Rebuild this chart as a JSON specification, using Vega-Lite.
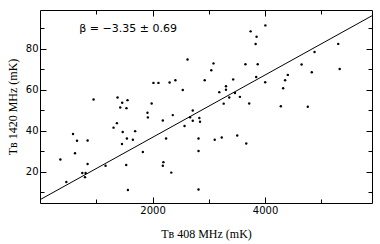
{
  "$schema": "https://vega.github.io/schema/vega-lite/v6.json",
  "width": 332,
  "height": 193,
  "autosize": {"type": "none"},
  "padding": {"left": 40, "top": 10, "right": 8, "bottom": 41},
  "background": "white",
  "config": {
    "view": {"stroke": "black", "strokeWidth": 1},
    "axis": {
      "domain": false,
      "grid": false,
      "tickColor": "black",
      "tickWidth": 1,
      "labelColor": "black",
      "labelFont": "DejaVu Sans",
      "labelFontSize": 10,
      "titleColor": "black",
      "titleFont": "Liberation Serif",
      "titleFontSize": 12,
      "titleFontWeight": "normal"
    }
  },
  "datasets": {
    "pts": [
      {"t408": 952, "t1420": 55.2}, {"t408": 1378, "t1420": 56.2}, {"t408": 1461, "t1420": 53.6},
      {"t408": 1555, "t1420": 54.9}, {"t408": 1426, "t1420": 51.3}, {"t408": 1537, "t1420": 51.0},
      {"t408": 1984, "t1420": 53.3}, {"t408": 2016, "t1420": 63.3}, {"t408": 2105, "t1420": 63.3},
      {"t408": 2303, "t1420": 63.5}, {"t408": 2406, "t1420": 64.6}, {"t408": 2622, "t1420": 74.7},
      {"t408": 2537, "t1420": 59.8}, {"t408": 3083, "t1420": 72.8}, {"t408": 3044, "t1420": 69.5},
      {"t408": 2927, "t1420": 64.6}, {"t408": 3186, "t1420": 58.8}, {"t408": 3305, "t1420": 61.7},
      {"t408": 3305, "t1420": 60.0}, {"t408": 3433, "t1420": 65.0}, {"t408": 3363, "t1420": 56.2},
      {"t408": 3465, "t1420": 58.4}, {"t408": 3553, "t1420": 56.5}, {"t408": 3264, "t1420": 53.2},
      {"t408": 3718, "t1420": 53.3}, {"t408": 3651, "t1420": 72.4}, {"t408": 3743, "t1420": 88.4},
      {"t408": 3849, "t1420": 85.8}, {"t408": 3832, "t1420": 82.2}, {"t408": 3869, "t1420": 72.4},
      {"t408": 3842, "t1420": 66.2}, {"t408": 4005, "t1420": 91.3}, {"t408": 4002, "t1420": 63.6},
      {"t408": 4280, "t1420": 51.9}, {"t408": 4759, "t1420": 51.7}, {"t408": 4649, "t1420": 72.3},
      {"t408": 4879, "t1420": 78.3}, {"t408": 4830, "t1420": 68.5}, {"t408": 5300, "t1420": 82.3},
      {"t408": 5326, "t1420": 70.1}, {"t408": 4404, "t1420": 67.2}, {"t408": 4356, "t1420": 64.6},
      {"t408": 4321, "t1420": 60.7}, {"t408": 2715, "t1420": 49.9}, {"t408": 2832, "t1420": 46.2},
      {"t408": 2715, "t1420": 44.9}, {"t408": 2844, "t1420": 44.4}, {"t408": 1910, "t1420": 48.8},
      {"t408": 1917, "t1420": 46.5}, {"t408": 1367, "t1420": 43.7}, {"t408": 1307, "t1420": 41.5},
      {"t408": 1470, "t1420": 39.4}, {"t408": 1691, "t1420": 39.8}, {"t408": 587, "t1420": 38.4},
      {"t408": 658, "t1420": 35.1}, {"t408": 846, "t1420": 35.2}, {"t408": 1544, "t1420": 36.2},
      {"t408": 1651, "t1420": 35.6}, {"t408": 1457, "t1420": 33.5}, {"t408": 622, "t1420": 29.0},
      {"t408": 1828, "t1420": 29.6}, {"t408": 362, "t1420": 26.0}, {"t408": 846, "t1420": 23.8},
      {"t408": 1165, "t1420": 22.9}, {"t408": 1532, "t1420": 23.3}, {"t408": 752, "t1420": 19.4},
      {"t408": 810, "t1420": 19.4}, {"t408": 800, "t1420": 17.4}, {"t408": 468, "t1420": 15.0},
      {"t408": 1562, "t1420": 11.1}, {"t408": 2183, "t1420": 45.0}, {"t408": 2360, "t1420": 47.6},
      {"t408": 2667, "t1420": 46.6}, {"t408": 2569, "t1420": 42.3}, {"t408": 2241, "t1420": 36.2},
      {"t408": 2817, "t1420": 36.2}, {"t408": 2817, "t1420": 30.1}, {"t408": 3105, "t1420": 35.6},
      {"t408": 3230, "t1420": 36.7}, {"t408": 3505, "t1420": 37.7}, {"t408": 3665, "t1420": 33.8},
      {"t408": 2193, "t1420": 24.7}, {"t408": 2183, "t1420": 22.9}, {"t408": 2333, "t1420": 19.6},
      {"t408": 2817, "t1420": 11.4}
    ],
    "fit": [
      {"t408": 0, "t1420": 6.4},
      {"t408": 5900, "t1420": 96.0}
    ],
    "note": [
      {"label": "β  =  −3.35 ± 0.69"}
    ]
  },
  "layer": [
    {
      "data": {"name": "pts"},
      "mark": {"type": "point", "filled": true, "color": "black", "size": 6, "opacity": 1},
      "encoding": {
        "x": {
          "field": "t408", "type": "quantitative",
          "scale": {"domain": [0, 5900], "nice": false, "zero": false},
          "axis": {
            "orient": "bottom",
            "values": [1000, 2000, 3000, 4000, 5000],
            "labelExpr": "datum.value % 2000 === 0 ? datum.label : ''",
            "format": "d",
            "tickSize": {"condition": {"test": "datum.value % 2000 === 0", "value": -6}, "value": -4},
            "labelPadding": 8,
            "title": "Tʙ 408 MHz (mK)",
            "titlePadding": 13
          }
        },
        "y": {
          "field": "t1420", "type": "quantitative",
          "scale": {"domain": [4.8, 98.8], "nice": false, "zero": false},
          "axis": {
            "orient": "left",
            "values": [10, 20, 30, 40, 50, 60, 70, 80, 90],
            "labelExpr": "datum.value % 20 === 0 ? datum.label : ''",
            "tickSize": {"condition": {"test": "datum.value % 20 === 0", "value": -6}, "value": -4},
            "labelPadding": 8,
            "title": "Tʙ 1420 MHz (mK)",
            "titlePadding": 6
          }
        }
      }
    },
    {
      "data": {"name": "fit"},
      "mark": {"type": "line", "color": "black", "strokeWidth": 1, "clip": true},
      "encoding": {
        "x": {
          "field": "t408", "type": "quantitative",
          "axis": {
            "orient": "top",
            "values": [1000, 2000, 3000, 4000, 5000],
            "labels": false,
            "tickSize": {"condition": {"test": "datum.value % 2000 === 0", "value": -6}, "value": -4},
            "title": null
          }
        },
        "y": {
          "field": "t1420", "type": "quantitative",
          "axis": {
            "orient": "right",
            "values": [10, 20, 30, 40, 50, 60, 70, 80, 90],
            "labels": false,
            "tickSize": {"condition": {"test": "datum.value % 20 === 0", "value": -6}, "value": -4},
            "title": null
          }
        }
      }
    },
    {
      "data": {"name": "note"},
      "mark": {"type": "text", "align": "left", "baseline": "middle", "font": "DejaVu Sans", "fontSize": 11, "color": "black"},
      "encoding": {
        "x": {"datum": 699, "type": "quantitative", "axis": null},
        "y": {"datum": 89.5, "type": "quantitative", "axis": null},
        "text": {"field": "label"}
      }
    }
  ],
  "resolve": {"axis": {"x": "independent", "y": "independent"}}
}
